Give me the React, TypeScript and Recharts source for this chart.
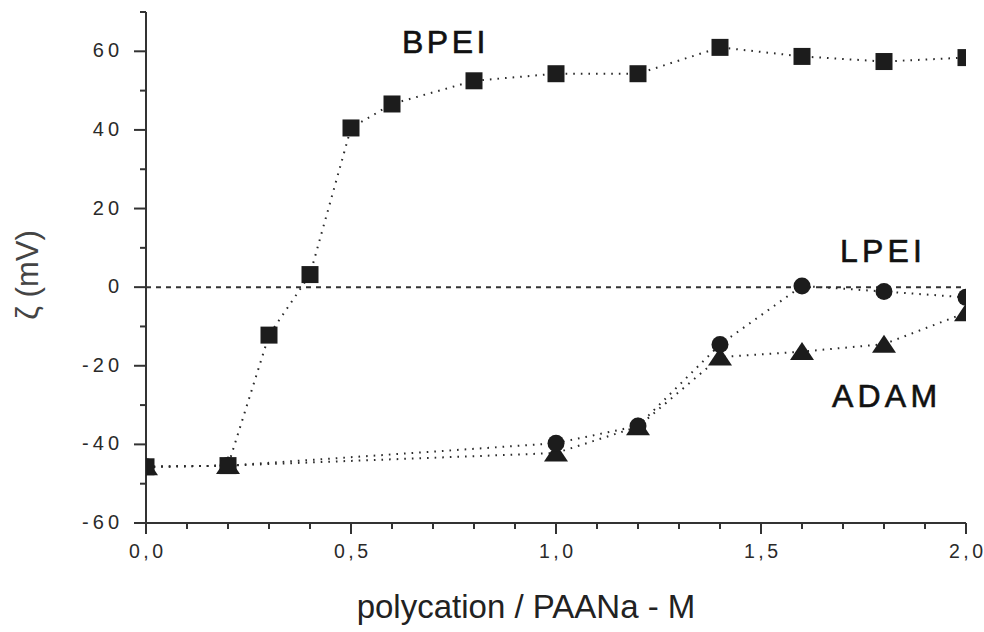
import React from 'react';
import { LineChart, Line, XAxis, YAxis, ReferenceLine } from 'recharts';

// ---- data ----
const bpeiX = [0, 0.2, 0.3, 0.4, 0.5, 0.6, 0.8, 1.0, 1.2, 1.4, 1.6, 1.8, 2.0];
const bpeiY = [-45.7, -45.4, -12.2, 3.2, 40.5, 46.6, 52.5, 54.3, 54.3, 61.0, 58.7, 57.4, 58.4];

const lpeiX = [0, 0.2, 1.0, 1.2, 1.4, 1.6, 1.8, 2.0];
const lpeiY = [-45.7, -45.4, -39.7, -35.3, -14.6, 0.3, -1.1, -2.6];

const adamX = [0, 0.2, 1.0, 1.2, 1.4, 1.6, 1.8, 2.0];
const adamY = [-45.7, -45.4, -42.2, -35.5, -17.8, -16.4, -14.5, -6.5];

const xTicks = [0, 0.1, 0.2, 0.3, 0.4, 0.5, 0.6, 0.7, 0.8, 0.9, 1.0, 1.1, 1.2, 1.3, 1.4, 1.5, 1.6, 1.7, 1.8, 1.9, 2.0];
const xMajor = [0, 0.5, 1.0, 1.5, 2.0];
const xMajorLabels = ['0,0', '0,5', '1,0', '1,5', '2,0'];

const yTicks = [-60, -50, -40, -30, -20, -10, 0, 10, 20, 30, 40, 50, 60, 70];
const yMajor = [-60, -40, -20, 0, 20, 40, 60];
const yMajorLabels = ['-60', '-40', '-20', '0', '20', '40', '60'];

const seriesNames = ['BPEI', 'LPEI', 'ADAM'];
const xTitle = 'polycation / PAANa - M';
const yTitle = 'ζ (mV)';

const zip = (xs: number[], ys: number[]) => xs.map((x, i) => ({ x, y: ys[i] }));
const bpeiData = zip(bpeiX, bpeiY);
const lpeiData = zip(lpeiX, lpeiY);
const adamData = zip(adamX, adamY);

const INK = '#1c1c1c';
const AXIS = '#333';
const FONT = '"Liberation Sans", Arial, sans-serif';

const findIdx = (arr: number[], v: number) => arr.findIndex((m) => Math.abs(m - v) < 1e-6);

// spaced text without trailing letter-spacing
const Spaced = ({ text, gap }: { text: string; gap: number }) => (
  <>
    {text.split('').map((ch, i) => (
      <tspan key={i} dx={i === 0 ? 0 : gap}>
        {ch}
      </tspan>
    ))}
  </>
);

const XTick = (props: any) => {
  const { x, y, payload } = props;
  const idx = findIdx(xMajor, payload.value);
  const major = idx >= 0;
  return (
    <g>
      <line x1={x} x2={x} y1={y} y2={y + (major ? 11 : 6)} stroke={AXIS} strokeWidth={2} />
      {major && (
        <text x={x} y={y + 35} textAnchor="middle" fontSize={19.5} fill="#2a2a2a" fontFamily={FONT}>
          <Spaced text={xMajorLabels[idx]} gap={3.5} />
        </text>
      )}
    </g>
  );
};

const YTick = (props: any) => {
  const { x, y, payload } = props;
  const idx = findIdx(yMajor, payload.value);
  const major = idx >= 0;
  return (
    <g>
      <line x1={x - (major ? 12 : 6)} x2={x} y1={y} y2={y} stroke={AXIS} strokeWidth={2} />
      {major && (
        <text x={x - 27} y={y + 6} textAnchor="end" fontSize={20} fill="#2a2a2a" fontFamily={FONT}>
          <Spaced text={yMajorLabels[idx]} gap={4} />
        </text>
      )}
    </g>
  );
};

const SquareDot = (p: any) => {
  const { cx, cy, index } = p;
  if (cx == null || cy == null) return <g key={`s-${index}`} />;
  return <rect key={`s-${index}`} x={cx - 8.5} y={cy - 8.5} width={17} height={17} fill={INK} />;
};
const CircleDot = (p: any) => {
  const { cx, cy, index } = p;
  if (cx == null || cy == null) return <g key={`c-${index}`} />;
  return <circle key={`c-${index}`} cx={cx} cy={cy} r={8.5} fill={INK} />;
};
const TriDot = (p: any) => {
  const { cx, cy, index } = p;
  if (cx == null || cy == null) return <g key={`t-${index}`} />;
  return (
    <polygon
      key={`t-${index}`}
      points={`${cx},${cy - 9.5} ${cx - 12},${cy + 8.5} ${cx + 12},${cy + 8.5}`}
      fill={INK}
    />
  );
};

const lineStyle = {
  stroke: '#2a2a2a',
  strokeWidth: 2,
  strokeDasharray: '1.6 6',
  strokeLinecap: 'butt' as const,
};

export default function App() {
  return (
    <div style={{ position: 'absolute', left: 0, top: 0, width: 984, height: 632, background: '#fff' }}>
      <LineChart
        width={984}
        height={632}
        margin={{ top: 12, right: 18, bottom: 69, left: 86 }}
        style={{ fontFamily: FONT }}
      >
        <XAxis
          type="number"
          dataKey="x"
          domain={[0, 2]}
          ticks={xTicks}
          interval={0}
          allowDataOverflow
          height={40}
          tickSize={0}
          tickMargin={0}
          tickLine={false}
          axisLine={{ stroke: AXIS, strokeWidth: 2 }}
          tick={<XTick />}
        />
        <YAxis
          type="number"
          dataKey="y"
          domain={[-60, 70]}
          ticks={yTicks}
          interval={0}
          allowDataOverflow
          width={60}
          tickSize={0}
          tickMargin={0}
          tickLine={false}
          axisLine={{ stroke: AXIS, strokeWidth: 2 }}
          tick={<YTick />}
        />
        <ReferenceLine y={0} stroke={AXIS} strokeWidth={2} strokeDasharray="5 5" />
        <Line
          data={bpeiData}
          dataKey="y"
          name={seriesNames[0]}
          type="linear"
          {...lineStyle}
          dot={SquareDot}
          activeDot={false}
          isAnimationActive={false}
        />
        <Line
          data={adamData}
          dataKey="y"
          name={seriesNames[2]}
          type="linear"
          {...lineStyle}
          dot={TriDot}
          activeDot={false}
          isAnimationActive={false}
        />
        <Line
          data={lpeiData}
          dataKey="y"
          name={seriesNames[1]}
          type="linear"
          {...lineStyle}
          dot={CircleDot}
          activeDot={false}
          isAnimationActive={false}
        />
      </LineChart>
      <svg
        width={984}
        height={632}
        style={{ position: 'absolute', left: 0, top: 0, pointerEvents: 'none' }}
      >
        <text x={402} y={53} fontSize={32} fill="#111" stroke="#111" strokeWidth={0.6} fontFamily={FONT}>
          <Spaced text={seriesNames[0]} gap={3.5} />
        </text>
        <text x={840} y={262} fontSize={32} fill="#111" stroke="#111" strokeWidth={0.6} fontFamily={FONT}>
          <Spaced text={seriesNames[1]} gap={4.2} />
        </text>
        <text x={832} y={407} fontSize={32} fill="#111" stroke="#111" strokeWidth={0.6} fontFamily={FONT}>
          <Spaced text={seriesNames[2]} gap={4.2} />
        </text>
        <text x={526} y={618} fontSize={33} textAnchor="middle" fill="#222" fontFamily={FONT}>
          {xTitle}
        </text>
        <text
          x={38}
          y={275}
          fontSize={31}
          textAnchor="middle"
          fill="#444"
          fontFamily={FONT}
          transform="rotate(-90 38 275)"
        >
          {yTitle}
        </text>
      </svg>
    </div>
  );
}
